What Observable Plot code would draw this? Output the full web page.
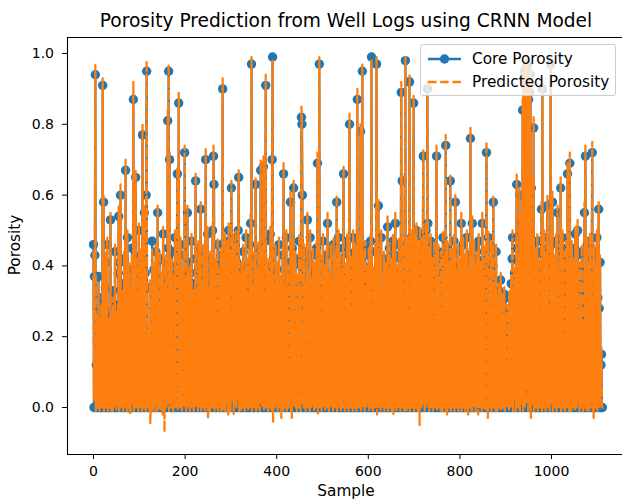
<!DOCTYPE html>
<html>
<head>
<meta charset="utf-8">
<script src="https://cdn.jsdelivr.net/npm/d3@7"></script>
<script src="https://cdn.jsdelivr.net/npm/@observablehq/plot@0.6"></script>
<style>
  html, body { margin: 0; padding: 0; background: #fff; overflow: hidden; }
  #wrap { position: relative; width: 622px; height: 501px; font-family: "DejaVu Sans", sans-serif; color: #000; }
  #wrap svg { display: block; }
  .lbl { position: absolute; white-space: nowrap; line-height: 1; transform: translate(-50%, -50%); }
  #legend { position: absolute; left: 420px; top: 44px; width: 196px; height: 52px;
            background: rgba(255,255,255,0.8); border: 1px solid #cccccc; border-radius: 3px; box-sizing: border-box; }
</style>
</head>
<body>
<div id="wrap"></div>
<script>
// Chart text
const titleText = "Porosity Prediction from Well Logs using CRNN Model";
const xLabel = "Sample";
const yLabel = "Porosity";
const seriesNames = ["Core Porosity", "Predicted Porosity"];
const seriesColors = ["#1f77b4", "#ff7f0e"];

// Axis ticks
const xTicks = [0, 200, 400, 600, 800, 1000];
const yTicks = [0, 0.2, 0.4, 0.6, 0.8, 1.0];

// Core porosity per sample (samples 0..1111, 40 per row)
const corePorosity = [
  .46,0,.37,.43,.94,0,.12,0,.28,0,0,.37,.05,0,.22,0,0,.31,0,.08,.91,0,.58,0,.19,0,.34,.41,0,0,.46,0,.15,0,.27,0,0,.53,.09,0,
  0,.24,0,.33,0,.18,0,.44,0,.06,0,.29,0,0,.38,.54,0,.41,0,.60,0,.21,0,.35,.11,0,0,.42,0,.17,.67,0,.26,0,.48,0,.13,0,.39,0,
  .22,0,.31,0,.45,0,.14,.87,0,.36,0,.27,.65,0,.40,0,.08,.33,0,.50,0,.19,0,.43,0,.30,0,.77,0,.25,0,.55,0,.38,0,.60,.95,0,.20,0,
  0,.16,0,.34,0,0,.12,0,.47,0,.28,0,.39,0,.07,0,.44,0,.23,0,.55,0,.31,0,.18,.42,0,0,.36,0,.26,0,.49,0,.12,0,.33,0,.41,0,
  .29,0,.81,.45,.95,0,.70,.38,0,.21,0,.44,0,.15,0,.36,0,.27,.48,0,.10,0,.40,.66,0,.32,.86,0,.24,0,.46,0,.13,0,.37,0,.20,.43,0,.72,
  0,.34,0,.19,0,.55,0,.41,0,.28,0,.09,.38,0,.47,0,.22,0,.35,0,.14,0,.42,.64,0,.30,0,.18,0,.45,0,.25,0,.39,.56,0,.11,0,.33,0,
  .44,0,.27,0,.38,.70,0,.16,0,.49,0,.31,0,.21,0,.42,0,.07,.35,0,.50,0,.71,.63,0,.29,0,.40,0,.17,0,.46,0,.24,0,.37,0,.12,.43,0,
  0,.33,.90,0,.41,.22,0,.47,0,.30,.38,0,.45,.26,0,.50,.34,0,.42,0,.28,.62,.40,0,.47,.31,0,.44,.20,0,.48,.36,0,.41,0,.27,.50,.65,0,.35,
  0,.18,0,.39,0,.26,0,.44,0,.13,0,.36,0,.48,0,.21,0,.40,0,.30,0,.46,0,.52,0,.97,0,.33,0,.19,0,.42,0,.28,.63,0,.37,0,.15,0,
  .45,0,.24,0,.38,.67,0,.20,0,.43,0,.68,0,.31,0,.47,.91,0,.26,0,.40,0,.14,0,.36,0,.49,0,.22,0,.70,.99,0,.33,0,.18,0,.44,0,.27,
  0,.39,0,.12,0,.46,0,.29,0,.35,0,.21,0,.43,0,.66,0,.32,0,.17,0,.48,0,.25,0,.38,0,.10,0,.41,.58,0,.23,0,.45,0,.30,.62,0,.19,
  0,.42,0,.27,0,.36,0,.14,0,.47,0,.31,0,.40,.82,.80,.60,0,.22,0,.44,0,.33,0,.16,0,.41,.53,0,.26,0,.37,0,.48,0,.20,0,.34,0,.43,
  0,.28,0,.39,0,.15,0,.45,0,.69,0,.32,0,.97,0,.24,0,.41,0,.18,0,.47,0,.30,0,.38,0,.11,0,.43,0,.52,0,.26,0,.36,0,.20,.44,0,
  .33,0,.21,0,.46,0,.29,0,.40,0,.13,.58,0,.35,0,.48,0,.23,0,.42,0,.17,0,.37,0,.45,.66,0,.27,0,.39,0,.14,0,.47,0,.31,0,.43,.80,
  0,.26,0,.41,0,.19,0,.48,0,.34,0,.44,0,.12,0,.39,.87,0,.28,0,.46,0,.35,.78,0,.22,0,.95,0,.40,0,.17,0,.45,0,.30,0,.38,0,.24,
  0,.43,0,.31,0,.47,0,.99,0,.20,0,.38,0,.27,0,.44,0,.35,.97,0,.16,0,.57,0,.41,0,.25,0,.48,0,.33,0,.13,0,.42,0,.29,0,.39,0,
  .21,0,.51,0,.36,0,.45,0,.18,0,.40,0,.28,0,.47,0,.32,0,.43,.52,0,.24,0,.38,0,.15,0,.46,0,.34,0,.42,.89,0,.64,0,.27,0,.44,0,
  .37,.98,0,.29,0,.46,0,.20,0,.41,.92,0,.33,0,.48,0,.14,0,.39,.86,0,.47,0,.26,0,.50,0,.35,0,.45,0,.22,0,.49,0,.31,0,.44,0,.38,
  .71,0,.46,0,.27,0,.50,0,.36,.90,.52,0,.43,0,.19,0,.47,0,.31,0,.40,0,.24,0,.45,0,.13,0,.38,.71,0,.29,0,.44,0,.34,0,.17,0,.42,
  0,.26,0,.48,0,.35,0,.41,0,.74,0,.21,0,.45,0,.30,0,.39,0,.64,0,.16,0,.43,0,.33,0,.47,0,.25,.58,0,.37,0,.12,0,.44,0,.28,0,
  .40,0,.22,.52,0,.34,0,.46,0,.18,0,.41,0,.29,0,.48,0,.36,0,.14,0,.43,0,.76,0,.31,0,.52,0,.24,0,.45,0,.38,0,.20,0,.42,0,.33,
  0,.47,0,.27,0,.39,0,.15,0,.52,0,.35,0,.44,0,.23,0,.41,.72,0,.30,0,.48,0,.19,0,.37,0,.45,0,.26,0,.40,.58,0,.33,0,.21,0,.44,
  0,.28,0,.17,0,.33,0,.22,0,.36,0,.12,0,.30,0,.19,0,.32,0,.24,0,.09,0,.27,.25,0,.16,0,.31,0,.20,0,.35,0,.42,.48,0,.29,0,.38,
  0,.34,0,.45,.63,0,.27,0,.41,0,.60,0,.36,.48,0,.52,0,.84,0,.93,0,.95,0,.91,.05,.96,0,.93,.97,0,.87,0,.89,0,.94,0,.62,.38,0,.45,
  0,.79,0,.29,0,.43,0,.18,0,.47,0,.33,0,.40,0,.24,0,.44,.56,0,.90,0,.36,0,.48,0,.21,0,.42,0,.31,.57,0,.45,0,.27,0,.39,.97,0,
  .46,0,.58,0,.34,0,.41,0,.22,0,.47,0,.30,.55,0,.38,0,.15,0,.44,.62,0,.26,0,.48,0,.35,0,.42,0,.19,0,.45,0,.31,.66,0,.40,0,.28,
  .69,0,.33,0,.45,0,.21,0,.40,0,.28,0,.49,0,.36,0,.43,.50,.24,0,.17,0,.39,0,.27,0,.44,0,.20,0,.13,0,.55,0,.71,0,.32,0,.46,0,
  .38,0,.25,0,.47,0,.34,0,.42,.72,0,.29,0,.44,0,.19,0,.37,0,.48,0,.31,0,.56,.28,0,.41,0,.12,.15,0,0
];

// Model-predicted porosity per sample (same samples)
const predictedPorosity = [
  .44,.02,.39,.41,.97,-.01,.14,.01,.26,0,.02,.35,.07,-.01,.24,.01,.03,.29,0,.1,.93,.01,.6,-.01,.21,.02,.32,.44,0,.01,.48,-.01,.17,.02,.25,0,.01,.55,.11,-.01,
  .01,.26,-.01,.31,.02,.2,0,.46,.01,.08,-.01,.27,.02,.01,.4,.57,-.01,.39,.01,.63,0,.23,.02,.33,.13,-.01,.02,.44,0,.19,.7,.01,.24,-.01,.5,.02,.15,0,.41,-.015,
  .24,-.015,.33,.01,.43,.02,.16,.92,-.01,.38,.01,.25,.67,0,.42,.02,.1,.31,-.01,.52,.01,.21,0,.45,.02,.28,-.01,.8,.01,.27,0,.57,.02,.36,-.01,.62,.98,.01,.22,0,
  .02,.18,-.01,.36,-.045,.01,.14,-.01,.45,.02,.3,0,.41,-.01,.09,.01,.46,.02,.25,-.01,.57,.01,.29,0,.2,.44,-.01,.02,.38,0,.28,-.02,.51,.01,.14,-.07,.35,.01,.43,0,
  .31,.01,.84,.43,.97,-.01,.72,.4,.02,.23,0,.42,.01,.17,-.01,.38,.02,.29,.5,0,.12,.01,.42,.68,-.01,.3,.89,.02,.26,0,.48,.01,.15,-.01,.39,.02,.22,.45,0,.74,
  .01,.36,-.01,.21,.02,.57,0,.39,.01,.3,-.01,.11,.4,.02,.49,0,.24,.01,.33,-.01,.16,.02,.44,.66,0,.32,.01,.2,-.01,.47,.02,.27,0,.41,.58,-.01,.13,.01,.35,0,
  .46,.02,.29,-.01,.4,.73,.01,.18,0,.51,-.03,.33,.01,.23,-.01,.44,.02,.09,.37,0,.52,.01,.74,.65,-.01,.31,.02,.42,0,.19,.01,.48,-.01,.26,.02,.39,0,.14,.45,-.01,
  .01,.35,.93,-.01,.43,.24,.02,.49,-.01,.32,.4,.01,.47,.28,-.02,.52,.36,.01,.44,-.01,.3,.64,.42,.02,.49,.33,-.02,.46,.22,.01,.5,.38,0,.43,.02,.29,.52,.67,-.01,.37,
  .02,.2,-.01,.41,.01,.28,0,.46,.02,.15,-.01,.38,.01,.5,0,.23,.02,.42,-.01,.32,.01,.48,0,.55,.02,.99,-.01,.35,.01,.21,0,.44,.02,.3,.65,-.01,.39,.01,.17,0,
  .47,.01,.26,-.01,.4,.7,.02,.22,0,.45,.01,.71,-.01,.33,.02,.49,.94,0,.28,.01,.42,-.01,.16,.02,.38,0,.51,.01,.24,-.01,.72,.98,-.04,.35,.01,.2,0,.46,.02,.29,
  .01,.41,-.01,.14,.02,.48,0,.31,.01,.37,-.03,.23,.02,.45,-.01,.69,.01,.34,0,.19,.02,.5,-.01,.27,.01,.4,0,.12,.02,.43,.61,-.01,.25,-.03,.47,.01,.32,.64,0,.21,
  .02,.44,0,.29,-.01,.38,.01,.16,0,.49,.02,.33,-.01,.42,.85,.82,.62,.01,.24,0,.46,.02,.35,-.01,.18,.01,.43,.55,0,.28,.02,.39,-.01,.5,.01,.22,0,.36,.02,.45,
  .01,.3,-.01,.41,.02,.17,0,.47,.01,.72,-.02,.34,.01,.99,0,.26,.02,.43,-.01,.2,.01,.49,0,.32,.02,.4,-.01,.13,.01,.45,0,.55,.02,.28,-.01,.38,.01,.22,.46,0,
  .35,.02,.23,-.01,.48,.01,.31,0,.42,.02,.15,.6,-.01,.37,.01,.5,0,.25,.02,.44,-.01,.19,.01,.39,0,.47,.68,.02,.29,-.01,.41,.01,.16,0,.49,.02,.33,-.01,.45,.83,
  .01,.28,0,.43,.02,.21,-.01,.5,.01,.36,0,.46,.02,.14,-.01,.41,.9,.01,.3,0,.48,.02,.37,.8,-.01,.24,.01,.97,0,.42,.02,.19,-.01,.47,.01,.32,0,.4,.02,.26,
  .01,.45,-.01,.33,.02,.49,0,.98,.01,.22,-.01,.4,.02,.29,0,.46,.01,.37,.99,-.02,.18,.01,.59,0,.43,.02,.27,-.01,.5,.01,.35,0,.15,.02,.44,-.01,.31,.01,.41,0,
  .23,.02,.54,-.01,.38,.01,.47,0,.2,.02,.42,-.01,.3,.01,.49,-.02,.34,0,.45,.55,.01,.26,-.01,.4,.02,.17,0,.48,.01,.36,-.01,.44,.92,.02,.66,0,.29,.01,.46,-.01,
  .39,.99,.01,.31,-.01,.48,.02,.22,0,.43,.94,-.01,.35,.01,.5,0,.16,.02,.41,.88,-.01,.49,.01,.28,0,.52,.02,.37,-.01,.47,.01,.24,-.05,.51,.02,.33,0,.46,.01,.4,
  .73,.02,.48,-.01,.29,.01,.52,0,.38,.92,.54,.01,.45,-.01,.21,.02,.49,0,.33,.01,.42,-.01,.26,.02,.47,0,.15,.01,.4,.74,-.01,.31,.02,.46,0,.36,.01,.19,-.01,.44,
  .01,.28,-.01,.5,.02,.37,0,.43,.01,.77,-.01,.23,-.02,.47,.02,.32,0,.41,.01,.66,-.01,.18,.02,.45,0,.35,.01,.49,-.01,.27,.6,.02,.39,0,.14,.01,.46,-.01,.3,0,
  .42,.01,.24,.55,-.01,.36,.02,.48,0,.2,.01,.43,-.01,.31,.02,.5,0,.38,-.02,.16,.01,.45,0,.79,.02,.33,-.01,.54,.01,.26,0,.47,.02,.4,-.01,.22,.01,.44,0,.35,
  -.02,.49,.01,.29,0,.41,.02,.17,-.01,.55,.01,.37,0,.46,.02,.25,-.01,.43,.75,.01,.32,-.03,.5,.02,.21,0,.39,.01,.47,-.01,.28,.02,.42,.6,0,.35,.01,.23,-.01,.46,
  .01,.3,-.01,.19,.02,.35,0,.24,.01,.38,-.01,.14,.02,.32,0,.21,.01,.34,-.01,.26,.02,.11,0,.29,.27,.01,.18,-.01,.33,.02,.22,0,.37,.01,.44,.5,-.01,.31,.02,.4,
  .02,.36,-.01,.47,.66,.01,.29,0,.43,.02,.62,-.01,.38,.5,.01,.55,.02,.87,-.01,.95,.01,.97,0,.94,.07,.98,.01,.95,.99,-.01,.9,.02,.92,0,.96,-.03,.65,.4,.01,.47,
  .01,.82,-.01,.31,.02,.45,0,.2,.01,.49,-.01,.35,.02,.42,0,.26,.01,.46,.58,-.01,.93,.02,.38,0,.5,.01,.23,-.01,.44,.02,.33,.6,0,.47,.01,.29,-.01,.41,.99,.02,
  .48,.01,.61,-.01,.36,.02,.43,0,.24,.01,.49,-.01,.32,.57,.02,.4,0,.17,.01,.46,.65,-.01,.28,.02,.5,0,.37,.01,.44,-.01,.21,.02,.47,0,.33,.69,.01,.42,-.01,.3,
  .72,.02,.35,-.01,.47,.01,.23,0,.42,.02,.3,-.01,.51,.01,.38,0,.45,.53,.26,.02,.19,-.01,.41,.01,.29,0,.46,.02,.22,-.01,.15,.01,.58,0,.74,.02,.34,-.01,.48,.01,
  .4,-.01,.27,.02,.49,0,.36,.01,.44,.75,-.01,.31,-.03,.46,.01,.21,0,.39,.02,.5,-.01,.33,.01,.58,.3,0,.43,.02,.14,.17,.01,0
];

if (corePorosity.length !== predictedPorosity.length) {
  throw new Error("series length mismatch: " + corePorosity.length + " vs " + predictedPorosity.length);
}

// One record per sample for Plot
const rows = corePorosity.map((v, i) => ({sample: i, core: v, predicted: predictedPorosity[i]}));

const xDomain = [-56.8, 1155];
const yDomain = [-0.1328, 1.0452];

const chart = Plot.plot({
  width: 622,
  height: 501,
  marginLeft: 67,
  marginRight: 0,
  marginTop: 37,
  marginBottom: 47,
  style: {fontFamily: "'DejaVu Sans', sans-serif", fontSize: "14px", color: "#000", background: "#fff"},
  x: {domain: xDomain},
  y: {domain: yDomain},
  marks: [
    // core porosity: solid line with circle markers
    Plot.line(rows, {x: "sample", y: "core", stroke: seriesColors[0], strokeWidth: 2.3}),
    Plot.dot(rows, {x: "sample", y: "core", r: 4.7, fill: seriesColors[0]}),
    // prediction: dashed line drawn over the core series
    Plot.line(rows, {x: "sample", y: "predicted", stroke: seriesColors[1], strokeWidth: 2.3, strokeDasharray: "8.5,3.7"}),
    // axes spines (left, bottom, top)
    Plot.ruleX([xDomain[0]], {stroke: "#000", strokeWidth: 1.1}),
    Plot.ruleY([yDomain[0], yDomain[1]], {stroke: "#000", strokeWidth: 1.1}),
    Plot.axisX({ticks: xTicks, tickFormat: d => String(d), tickSize: 5, tickPadding: 7, label: null}),
    Plot.axisY({ticks: yTicks, tickFormat: d => d.toFixed(1), tickSize: 5, tickPadding: 8.5, label: null})
  ]
});

const wrap = document.getElementById("wrap");
wrap.appendChild(chart);

function addLabel(text, x, y, size, rotate) {
  const el = document.createElement("div");
  el.className = "lbl";
  el.textContent = text;
  el.style.left = x + "px";
  el.style.top = y + "px";
  el.style.fontSize = size + "px";
  if (rotate) el.style.transform = "translate(-50%, -50%) rotate(-90deg)";
  wrap.appendChild(el);
}

addLabel(titleText, 346, 21, 18.6);
addLabel(xLabel, 346, 492, 15.3);
addLabel(yLabel, 16, 245, 15.3, true);

// Legend box with line/marker handles
const legend = document.createElement("div");
legend.id = "legend";
const ns = "http://www.w3.org/2000/svg";
const lsvg = document.createElementNS(ns, "svg");
lsvg.setAttribute("width", 196);
lsvg.setAttribute("height", 52);
lsvg.style.position = "absolute";
lsvg.style.left = "-1px";
lsvg.style.top = "-1px";
const rowsY = [15, 38];
seriesNames.forEach((name, k) => {
  const ln = document.createElementNS(ns, "line");
  ln.setAttribute("x1", 8); ln.setAttribute("x2", 41);
  ln.setAttribute("y1", rowsY[k]); ln.setAttribute("y2", rowsY[k]);
  ln.setAttribute("stroke", seriesColors[k]);
  ln.setAttribute("stroke-width", 2.3);
  if (k === 1) ln.setAttribute("stroke-dasharray", "8.5,3.7");
  lsvg.appendChild(ln);
  if (k === 0) {
    const c = document.createElementNS(ns, "circle");
    c.setAttribute("cx", 24.5); c.setAttribute("cy", rowsY[k]); c.setAttribute("r", 4.7);
    c.setAttribute("fill", seriesColors[k]);
    lsvg.appendChild(c);
  }
  const t = document.createElementNS(ns, "text");
  t.setAttribute("x", 52);
  t.setAttribute("y", rowsY[k]);
  t.setAttribute("dy", "0.35em");
  t.setAttribute("font-size", "15.3px");
  t.setAttribute("font-family", "'DejaVu Sans', sans-serif");
  t.textContent = name;
  lsvg.appendChild(t);
});
legend.appendChild(lsvg);
wrap.appendChild(legend);
</script>
</body>
</html>
